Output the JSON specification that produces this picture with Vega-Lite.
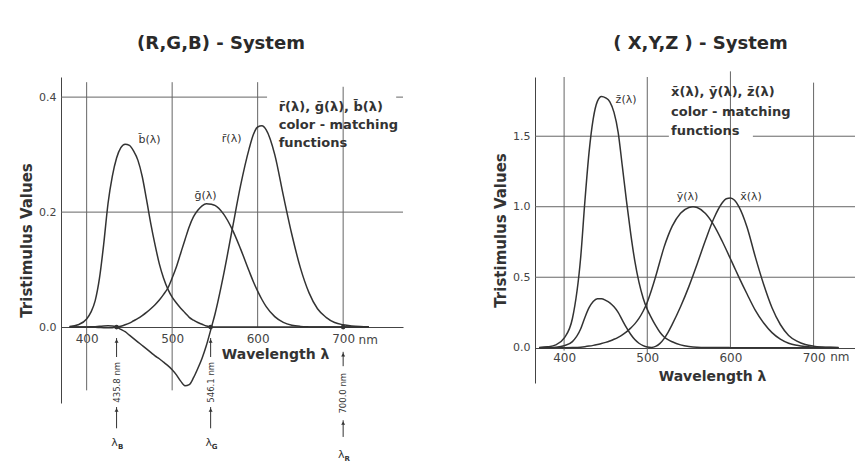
{
  "$schema": "https://vega.github.io/schema/vega-lite/v6.json",
  "background": "white",
  "autosize": "pad",
  "padding": {"left": 19, "top": 34, "right": 0, "bottom": 0},
  "bounds": "flush",
  "spacing": 132,
  "config": {
    "view": {"stroke": null},
    "font": "DejaVu Sans",
    "title": {"fontSize": 18, "fontWeight": "bold", "color": "#2a2a2a", "font": "DejaVu Sans"},
    "axis": {"domainColor": "#444", "labelColor": "#444", "labelFontSize": 11, "titleColor": "#333", "titleFontSize": 15, "titleFontWeight": "bold", "grid": false, "ticks": false, "labelFont": "DejaVu Sans", "titleFont": "DejaVu Sans"}
  },
  "datasets": {
    "rgb": [
      {"wl":380,"r":0,"g":0,"b":0.001},
      {"wl":390,"r":0.0001,"g":0,"b":0.004},
      {"wl":400,"r":0.0003,"g":0,"b":0.014},
      {"wl":405,"r":0.0005,"g":0,"b":0.026},
      {"wl":410,"r":0.0008,"g":-0.0004,"b":0.046},
      {"wl":415,"r":0.0013,"g":-0.0007,"b":0.085},
      {"wl":420,"r":0.002,"g":-0.001,"b":0.145},
      {"wl":425,"r":0.0022,"g":-0.0012,"b":0.215},
      {"wl":430,"r":0.002,"g":-0.0012,"b":0.262},
      {"wl":435,"r":0,"g":0,"b":0.294},
      {"wl":440,"r":-0.004,"g":0.0015,"b":0.312},
      {"wl":445,"r":-0.008,"g":0.004,"b":0.318},
      {"wl":450,"r":-0.014,"g":0.007,"b":0.316},
      {"wl":455,"r":-0.02,"g":0.011,"b":0.306},
      {"wl":460,"r":-0.026,"g":0.015,"b":0.29},
      {"wl":465,"r":-0.032,"g":0.02,"b":0.262},
      {"wl":470,"r":-0.038,"g":0.0255,"b":0.222},
      {"wl":475,"r":-0.044,"g":0.032,"b":0.18},
      {"wl":480,"r":-0.05,"g":0.039,"b":0.143},
      {"wl":485,"r":-0.055,"g":0.047,"b":0.11},
      {"wl":490,"r":-0.061,"g":0.057,"b":0.085},
      {"wl":495,"r":-0.067,"g":0.068,"b":0.066},
      {"wl":500,"r":-0.074,"g":0.0854,"b":0.052},
      {"wl":505,"r":-0.083,"g":0.105,"b":0.042},
      {"wl":510,"r":-0.094,"g":0.1286,"b":0.033},
      {"wl":515,"r":-0.102,"g":0.152,"b":0.025},
      {"wl":520,"r":-0.1,"g":0.1747,"b":0.017},
      {"wl":525,"r":-0.088,"g":0.192,"b":0.012},
      {"wl":530,"r":-0.072,"g":0.2032,"b":0.008},
      {"wl":535,"r":-0.054,"g":0.211,"b":0.005},
      {"wl":540,"r":-0.032,"g":0.2147,"b":0.002},
      {"wl":546,"r":0,"g":0.2135,"b":0},
      {"wl":550,"r":0.022,"g":0.2118,"b":0},
      {"wl":560,"r":0.09,"g":0.197,"b":0},
      {"wl":570,"r":0.168,"g":0.1709,"b":0},
      {"wl":580,"r":0.246,"g":0.1361,"b":0},
      {"wl":590,"r":0.31,"g":0.0975,"b":0},
      {"wl":595,"r":0.335,"g":0.079,"b":0},
      {"wl":600,"r":0.348,"g":0.0625,"b":0},
      {"wl":605,"r":0.35,"g":0.048,"b":0},
      {"wl":610,"r":0.343,"g":0.0356,"b":0},
      {"wl":620,"r":0.3,"g":0.0183,"b":0},
      {"wl":630,"r":0.229,"g":0.0083,"b":0},
      {"wl":640,"r":0.161,"g":0.0033,"b":0},
      {"wl":650,"r":0.103,"g":0.0012,"b":0},
      {"wl":660,"r":0.06,"g":0.0004,"b":0},
      {"wl":670,"r":0.032,"g":0.0001,"b":0},
      {"wl":680,"r":0.017,"g":0,"b":0},
      {"wl":690,"r":0.008,"g":0,"b":0},
      {"wl":700,"r":0.004,"g":0,"b":0},
      {"wl":710,"r":0.002,"g":0,"b":0},
      {"wl":720,"r":0.001,"g":0,"b":0},
      {"wl":730,"r":0.0005,"g":0,"b":0}
    ],
    "xyz": [
      {"wl":370,"x":0.0004,"y":0,"z":0.002},
      {"wl":380,"x":0.0014,"y":0,"z":0.0065},
      {"wl":390,"x":0.0042,"y":0.0001,"z":0.0201},
      {"wl":400,"x":0.0143,"y":0.0004,"z":0.0679},
      {"wl":410,"x":0.0435,"y":0.0012,"z":0.2074},
      {"wl":420,"x":0.1344,"y":0.004,"z":0.6456},
      {"wl":425,"x":0.2148,"y":0.0073,"z":1.0391},
      {"wl":430,"x":0.2839,"y":0.0116,"z":1.3856},
      {"wl":435,"x":0.3285,"y":0.0168,"z":1.623},
      {"wl":440,"x":0.3483,"y":0.023,"z":1.7471},
      {"wl":445,"x":0.3481,"y":0.0298,"z":1.7826},
      {"wl":450,"x":0.3362,"y":0.038,"z":1.7721},
      {"wl":455,"x":0.3187,"y":0.048,"z":1.7441},
      {"wl":460,"x":0.2908,"y":0.06,"z":1.6692},
      {"wl":465,"x":0.2511,"y":0.0739,"z":1.5281},
      {"wl":470,"x":0.1954,"y":0.091,"z":1.2876},
      {"wl":475,"x":0.1421,"y":0.1126,"z":1.0419},
      {"wl":480,"x":0.0956,"y":0.139,"z":0.813},
      {"wl":485,"x":0.058,"y":0.1693,"z":0.6162},
      {"wl":490,"x":0.032,"y":0.208,"z":0.4652},
      {"wl":495,"x":0.0147,"y":0.2586,"z":0.3533},
      {"wl":500,"x":0.0049,"y":0.323,"z":0.272},
      {"wl":505,"x":0.0024,"y":0.4073,"z":0.2123},
      {"wl":510,"x":0.0093,"y":0.503,"z":0.1582},
      {"wl":515,"x":0.0291,"y":0.6082,"z":0.1117},
      {"wl":520,"x":0.0633,"y":0.71,"z":0.0783},
      {"wl":525,"x":0.1096,"y":0.7932,"z":0.0573},
      {"wl":530,"x":0.1655,"y":0.862,"z":0.0422},
      {"wl":540,"x":0.2904,"y":0.954,"z":0.0203},
      {"wl":550,"x":0.4334,"y":0.995,"z":0.0088},
      {"wl":555,"x":0.5121,"y":1.0002,"z":0.0057},
      {"wl":560,"x":0.5945,"y":0.995,"z":0.0039},
      {"wl":570,"x":0.7621,"y":0.952,"z":0.0021},
      {"wl":580,"x":0.9163,"y":0.87,"z":0.0017},
      {"wl":590,"x":1.0263,"y":0.757,"z":0.0011},
      {"wl":595,"x":1.0567,"y":0.6949,"z":0.001},
      {"wl":600,"x":1.0622,"y":0.631,"z":0.0008},
      {"wl":605,"x":1.0456,"y":0.5668,"z":0.0006},
      {"wl":610,"x":1.0026,"y":0.503,"z":0.0003},
      {"wl":620,"x":0.8545,"y":0.381,"z":0.0002},
      {"wl":630,"x":0.6424,"y":0.265,"z":0},
      {"wl":640,"x":0.4479,"y":0.175,"z":0},
      {"wl":650,"x":0.2835,"y":0.107,"z":0},
      {"wl":660,"x":0.1649,"y":0.061,"z":0},
      {"wl":670,"x":0.0874,"y":0.032,"z":0},
      {"wl":680,"x":0.0468,"y":0.017,"z":0},
      {"wl":690,"x":0.0227,"y":0.0082,"z":0},
      {"wl":700,"x":0.0114,"y":0.0041,"z":0},
      {"wl":710,"x":0.0058,"y":0.0021,"z":0},
      {"wl":720,"x":0.0029,"y":0.001,"z":0},
      {"wl":730,"x":0.0014,"y":0.0005,"z":0}
    ]
  },
  "hconcat": [
    {
      "width": 342,
      "height": 326,
      "title": {"text": "(R,G,B) - System", "dx": -11, "offset": 24},
      "encoding": {
        "x": {"field": "wl", "type": "quantitative", "scale": {"domain": [370, 770], "nice": false, "zero": false},
              "axis": {"values": [400, 500, 600, 700], "title": null, "offset": -76, "labelPadding": 6, "labelFontSize": 12}},
        "y": {"field": "v", "type": "quantitative", "scale": {"domain": [-0.132, 0.435], "nice": false, "zero": false},
              "axis": {"values": [0, 0.2, 0.4], "format": ".1f", "title": "Tristimulus Values", "labelPadding": 5, "titlePadding": 4}}
      },
      "layer": [
        {
          "data": {"values": [
            {"wl":370,"wl2":770,"v":0.2,"v2":0.2},
            {"wl":370,"wl2":611,"v":0.4,"v2":0.4},
            {"wl":762,"wl2":770,"v":0.4,"v2":0.4},
            {"wl":400,"wl2":400,"v":-0.11,"v2":0.426},
            {"wl":500,"wl2":500,"v":-0.11,"v2":0.426},
            {"wl":600,"wl2":600,"v":0,"v2":0.426},
            {"wl":700,"wl2":700,"v":0,"v2":0.418}
          ]},
          "mark": {"type": "rule", "color": "#666", "strokeWidth": 1},
          "encoding": {"x2": {"field": "wl2"}, "y2": {"field": "v2"}}
        },
        {
          "data": {"name": "rgb"},
          "transform": [{"fold": ["r", "g", "b"], "as": ["fn", "v"]}],
          "mark": {"type": "line", "color": "#333", "strokeWidth": 1.5, "interpolate": "monotone"},
          "encoding": {"detail": {"field": "fn"}}
        },
        {
          "data": {"values": [
            {"wl":473.5,"v":0.325,"t":"b̄(λ)"},
            {"wl":539,"v":0.228,"t":"ḡ(λ)"},
            {"wl":569.6,"v":0.327,"t":"r̄(λ)"}
          ]},
          "mark": {"type": "text", "fontSize": 11, "color": "#333", "align": "center", "baseline": "middle"},
          "encoding": {"text": {"field": "t"}}
        },
        {
          "data": {"values": [
            {"wl":624.6,"v":0.383,"t":"r̄(λ), ḡ(λ), b̄(λ)"},
            {"wl":624.6,"v":0.351,"t":"color - matching"},
            {"wl":624.6,"v":0.32,"t":"functions"}
          ]},
          "mark": {"type": "text", "fontSize": 13, "fontWeight": "bold", "color": "#333", "align": "left", "baseline": "middle"},
          "encoding": {"text": {"field": "t"}}
        },
        {
          "data": {"values": [{"wl":621,"v":-0.049,"t":"Wavelength λ"}]},
          "mark": {"type": "text", "fontSize": 14, "fontWeight": "bold", "color": "#333", "align": "center", "baseline": "middle"},
          "encoding": {"text": {"field": "t"}}
        },
        {
          "data": {"values": [{"wl":718,"v":-0.0226,"t":"nm"}]},
          "mark": {"type": "text", "fontSize": 12, "color": "#444", "align": "left", "baseline": "middle"},
          "encoding": {"text": {"field": "t"}}
        },
        {
          "data": {"values": [
            {"wl":435,"v":-0.019,"v2":-0.052},{"wl":435,"v":-0.139,"v2":-0.176},
            {"wl":545,"v":-0.019,"v2":-0.052},{"wl":545,"v":-0.139,"v2":-0.176},
            {"wl":700,"v":-0.043,"v2":-0.068},{"wl":700,"v":-0.162,"v2":-0.191}
          ]},
          "mark": {"type": "rule", "color": "#333", "strokeWidth": 1},
          "encoding": {"y2": {"field": "v2"}}
        },
        {
          "data": {"values": [
            {"wl":435,"v":-0.024},{"wl":435,"v":-0.144},
            {"wl":545,"v":-0.024},{"wl":545,"v":-0.144},
            {"wl":700,"v":-0.048},{"wl":700,"v":-0.167}
          ]},
          "mark": {"type": "point", "shape": "triangle-up", "size": 16, "filled": true, "color": "#333", "opacity": 1},
          "encoding": {}
        },
        {
          "data": {"values": [{"wl":435,"v":0},{"wl":545,"v":0},{"wl":700,"v":0}]},
          "mark": {"type": "circle", "size": 22, "color": "#333", "opacity": 1},
          "encoding": {}
        },
        {
          "data": {"values": [
            {"wl":435,"v":-0.096,"t":"435.8 nm"},
            {"wl":545,"v":-0.096,"t":"546.1 nm"},
            {"wl":700,"v":-0.115,"t":"700.0 nm"}
          ]},
          "mark": {"type": "text", "fontSize": 8.5, "angle": 270, "color": "#333", "align": "center", "baseline": "middle"},
          "encoding": {"text": {"field": "t"}}
        },
        {
          "data": {"values": [
            {"wl":435,"v":-0.202,"s":"B"},
            {"wl":545,"v":-0.202,"s":"G"},
            {"wl":700,"v":-0.223,"s":"R"}
          ]},
          "layer": [
            {"mark": {"type": "text", "text": "λ", "fontSize": 11, "color": "#333", "align": "center", "baseline": "middle", "dx": -2}, "encoding": {}},
            {"mark": {"type": "text", "fontSize": 7, "fontWeight": "bold", "color": "#333", "align": "center", "baseline": "middle", "dx": 4, "dy": 4}, "encoding": {"text": {"field": "s"}}}
          ]
        }
      ]
    },
    {
      "width": 321,
      "height": 306,
      "title": {"text": "( X,Y,Z ) - System", "dx": 5, "offset": 18},
      "encoding": {
        "x": {"field": "wl", "type": "quantitative", "scale": {"domain": [365, 751], "nice": false, "zero": false},
              "axis": {"values": [400, 500, 600, 700], "title": null, "offset": -35, "labelPadding": 4, "labelFontSize": 12}},
        "y": {"field": "v", "type": "quantitative", "scale": {"domain": [-0.25, 1.92], "nice": false, "zero": false},
              "axis": {"values": [0, 0.5, 1, 1.5], "format": ".1f", "title": "Tristimulus Values", "labelPadding": 5, "titlePadding": 4}}
      },
      "layer": [
        {
          "data": {"values": [
            {"wl":365,"wl2":751,"v":0.5,"v2":0.5},
            {"wl":365,"wl2":751,"v":1.0,"v2":1.0},
            {"wl":365,"wl2":526,"v":1.5,"v2":1.5},
            {"wl":627,"wl2":751,"v":1.5,"v2":1.5},
            {"wl":400,"wl2":400,"v":-0.02,"v2":1.92},
            {"wl":500,"wl2":500,"v":-0.04,"v2":1.92},
            {"wl":600,"wl2":600,"v":0,"v2":1.96},
            {"wl":700,"wl2":700,"v":0,"v2":1.88}
          ]},
          "mark": {"type": "rule", "color": "#666", "strokeWidth": 1},
          "encoding": {"x2": {"field": "wl2"}, "y2": {"field": "v2"}}
        },
        {
          "data": {"name": "xyz"},
          "transform": [{"fold": ["x", "y", "z"], "as": ["fn", "v"]}],
          "mark": {"type": "line", "color": "#333", "strokeWidth": 1.5, "interpolate": "monotone"},
          "encoding": {"detail": {"field": "fn"}}
        },
        {
          "data": {"values": [
            {"wl":474.5,"v":1.76,"t":"z̄(λ)"},
            {"wl":548.4,"v":1.07,"t":"ȳ(λ)"},
            {"wl":624.8,"v":1.07,"t":"x̄(λ)"}
          ]},
          "mark": {"type": "text", "fontSize": 11, "color": "#333", "align": "center", "baseline": "middle"},
          "encoding": {"text": {"field": "t"}}
        },
        {
          "data": {"values": [
            {"wl":528.6,"v":1.816,"t":"x̄(λ), ȳ(λ), z̄(λ)"},
            {"wl":528.6,"v":1.674,"t":"color - matching"},
            {"wl":528.6,"v":1.534,"t":"functions"}
          ]},
          "mark": {"type": "text", "fontSize": 13, "fontWeight": "bold", "color": "#333", "align": "left", "baseline": "middle"},
          "encoding": {"text": {"field": "t"}}
        },
        {
          "data": {"values": [{"wl":578.5,"v":-0.206,"t":"Wavelength λ"}]},
          "mark": {"type": "text", "fontSize": 14, "fontWeight": "bold", "color": "#333", "align": "center", "baseline": "middle"},
          "encoding": {"text": {"field": "t"}}
        },
        {
          "data": {"values": [{"wl":720,"v":-0.069,"t":"nm"}]},
          "mark": {"type": "text", "fontSize": 12, "color": "#444", "align": "left", "baseline": "middle"},
          "encoding": {"text": {"field": "t"}}
        }
      ]
    }
  ]
}
